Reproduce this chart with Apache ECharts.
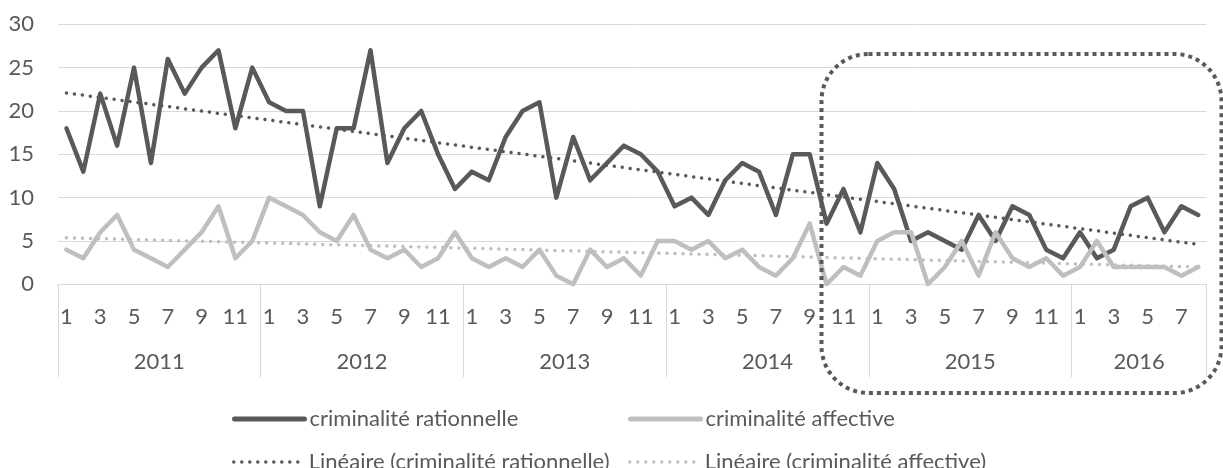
<!DOCTYPE html>
<html>
<head>
<meta charset="utf-8">
<script src="https://cdn.jsdelivr.net/npm/echarts@6/dist/echarts.min.js"></script>
<style>
  html, body { margin: 0; padding: 0; background: #ffffff; }
  #chart { width: 1223px; height: 468px; }
</style>
</head>
<body>
<div id="chart"></div>
<script>
// Monthly counts, January 2011 to August 2016
const years = ['2011', '2012', '2013', '2014', '2015', '2016'];
const monthsPerYear = [12, 12, 12, 12, 12, 8];

const rationnelle = [
  18, 13, 22, 16, 25, 14, 26, 22, 25, 27, 18, 25,
  21, 20, 20, 9, 18, 18, 27, 14, 18, 20, 15, 11,
  13, 12, 17, 20, 21, 10, 17, 12, 14, 16, 15, 13,
  9, 10, 8, 12, 14, 13, 8, 15, 15, 7, 11, 6,
  14, 11, 5, 6, 5, 4, 8, 5, 9, 8, 4, 3,
  6, 3, 4, 9, 10, 6, 9, 8
];
const affective = [
  4, 3, 6, 8, 4, 3, 2, 4, 6, 9, 3, 5,
  10, 9, 8, 6, 5, 8, 4, 3, 4, 2, 3, 6,
  3, 2, 3, 2, 4, 1, 0, 4, 2, 3, 1, 5,
  5, 4, 5, 3, 4, 2, 1, 3, 7, 0, 2, 1,
  5, 6, 6, 0, 2, 5, 1, 6, 3, 2, 3, 1,
  2, 5, 2, 2, 2, 2, 1, 2
];

const yMin = 0, yMax = 30, yStep = 5;

const names = {
  r: 'criminalité rationnelle',
  a: 'criminalité affective',
  rt: 'Linéaire (criminalité rationnelle)',
  at: 'Linéaire (criminalité affective)'
};

// Month labels (1..12 per year) and year boundaries / centres on a 0..N scale
const monthLabels = [];
monthsPerYear.forEach(n => { for (let m = 1; m <= n; m++) monthLabels.push(String(m)); });
const total = monthLabels.length;
const yearEdges = [0];
monthsPerYear.forEach(n => yearEdges.push(yearEdges[yearEdges.length - 1] + n));
const yearCentres = years.map((y, i) => (yearEdges[i] + yearEdges[i + 1]) / 2);

// Least-squares linear trend
function linearTrend(vals) {
  const n = vals.length;
  let sx = 0, sy = 0, sxx = 0, sxy = 0;
  vals.forEach((v, i) => { const x = i + 1; sx += x; sy += v; sxx += x * x; sxy += x * v; });
  const b = (n * sxy - sx * sy) / (n * sxx - sx * sx);
  const a = (sy - b * sx) / n;
  return vals.map((v, i) => +(a + b * (i + 1)).toFixed(3));
}

const DARK = '#595959';
const LIGHT = '#bfbfbf';
const GRID = '#d9d9d9';
const FONT = 'Lato';
const FS = 22;
const DOTS = [0.01, 8];

// One legend block per entry, laid out as a two-column, two-row table
function legendEntry(name, left, centreY, color, width, dotted) {
  return {
    left: left,
    top: centreY - FS / 2,
    itemWidth: 70,
    itemHeight: 14,
    data: [name],
    selectedMode: false,
    itemStyle: { opacity: 0 },
    lineStyle: dotted
      ? { color: color, width: width, type: DOTS, cap: 'round' }
      : { color: color, width: width, cap: 'round' },
    textStyle: { color: DARK, fontFamily: FONT, fontSize: FS, lineHeight: FS }
  };
}

const chart = echarts.init(document.getElementById('chart'), null, { renderer: 'canvas' });

chart.setOption({
  animation: false,
  backgroundColor: '#ffffff',
  textStyle: { fontFamily: FONT, color: DARK },
  grid: { left: 58, right: 16.3, top: 24.3, bottom: 183.7, containLabel: false },
  xAxis: [
    {
      type: 'category',
      data: monthLabels,
      boundaryGap: true,
      axisLine: { show: true, lineStyle: { color: GRID, width: 1 } },
      axisTick: { show: false },
      axisLabel: { interval: 1, color: DARK, fontFamily: FONT, fontSize: FS, lineHeight: FS, margin: 21.5 },
      splitLine: { show: false }
    },
    {
      type: 'value',
      position: 'bottom',
      min: 0,
      max: total,
      axisLine: { show: false },
      axisTick: {
        show: true,
        customValues: yearEdges,
        length: 93,
        lineStyle: { color: GRID, width: 1 }
      },
      axisLabel: {
        show: true,
        customValues: yearCentres,
        formatter: v => { const i = yearCentres.indexOf(v); return i >= 0 ? years[i] : ''; },
        color: DARK, fontFamily: FONT, fontSize: FS, lineHeight: FS, margin: 66.5
      },
      splitLine: { show: false }
    }
  ],
  yAxis: {
    type: 'value',
    min: yMin,
    max: yMax,
    interval: yStep,
    axisLine: { show: false },
    axisTick: { show: false },
    axisLabel: { color: DARK, fontFamily: FONT, fontSize: FS, margin: 24 },
    splitLine: { lineStyle: { color: GRID, width: 1 } }
  },
  legend: [
    legendEntry(names.r, 227, 414, DARK, 5, false),
    legendEntry(names.rt, 227, 457, DARK, 3.5, true),
    legendEntry(names.a, 623, 414, LIGHT, 5, false),
    legendEntry(names.at, 623, 457, LIGHT, 3.5, true)
  ],
  series: [
    {
      name: names.r, type: 'line', data: rationnelle,
      symbol: 'none', xAxisIndex: 0, z: 2,
      lineStyle: { color: DARK, width: 4.5, join: 'round', cap: 'round' },
      itemStyle: { color: DARK }
    },
    {
      name: names.a, type: 'line', data: affective,
      symbol: 'none', xAxisIndex: 0, z: 3,
      lineStyle: { color: LIGHT, width: 4.5, join: 'round', cap: 'round' },
      itemStyle: { color: LIGHT }
    },
    {
      name: names.rt, type: 'line', data: linearTrend(rationnelle),
      symbol: 'none', xAxisIndex: 0, z: 4,
      lineStyle: { color: DARK, width: 3.5, type: DOTS, cap: 'round' },
      itemStyle: { color: DARK }
    },
    {
      name: names.at, type: 'line', data: linearTrend(affective),
      symbol: 'none', xAxisIndex: 0, z: 4,
      lineStyle: { color: LIGHT, width: 3.5, type: DOTS, cap: 'round' },
      itemStyle: { color: LIGHT }
    }
  ],
  graphic: [
    {
      type: 'rect',
      z: 10,
      silent: true,
      shape: { x: 821.5, y: 54, width: 400, height: 339, r: 47 },
      style: { fill: 'none', stroke: DARK, lineWidth: 4, lineDash: [4, 4] }
    }
  ]
});
</script>
</body>
</html>
